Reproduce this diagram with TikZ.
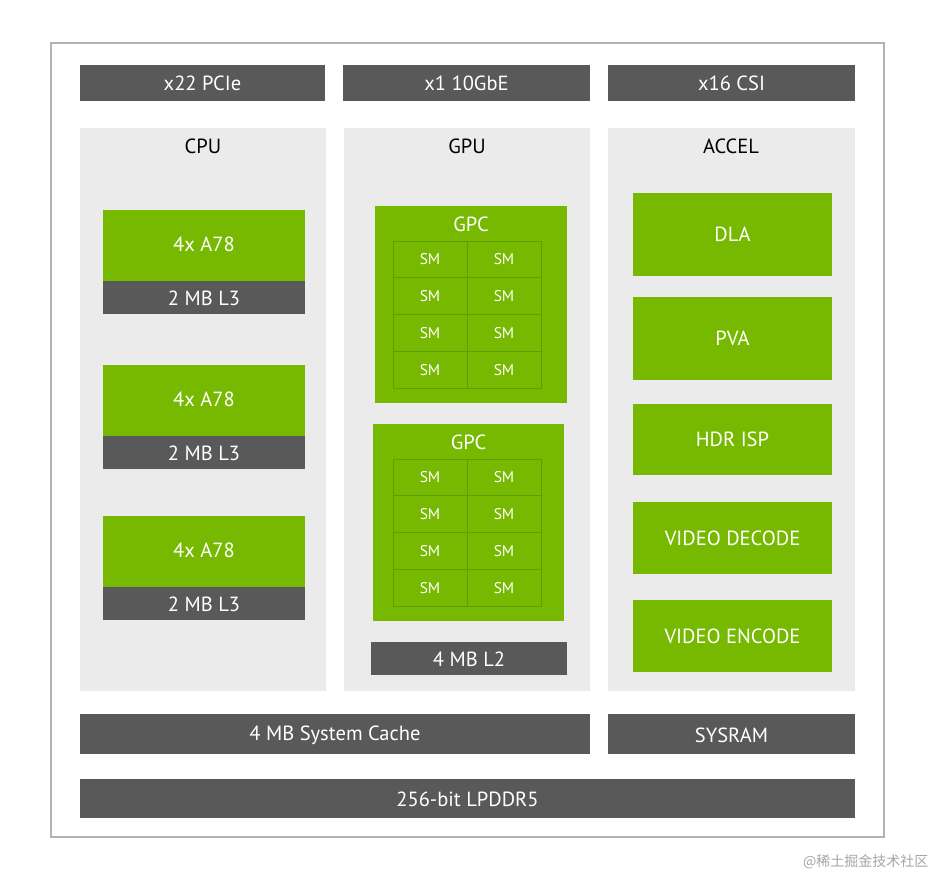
\documentclass[tikz,border=0pt]{standalone}
\usepackage{fontspec}
\setmainfont{PT Sans}
\newfontfamily\cjk{Noto Sans CJK SC}
\definecolor{nvg}{HTML}{76B900}
\definecolor{nvgd}{HTML}{5F9E00}
\definecolor{dk}{HTML}{595959}
\definecolor{lt}{HTML}{EBEBEB}
\begin{document}
\begin{tikzpicture}[x=1pt,y=-1pt,
  lbl/.style={text=white,font=\fontsize{20.5}{24}\selectfont},
  ttl/.style={font=\fontsize{20.5}{24}\selectfont,text=black},
  smt/.style={text=white,font=\fontsize{15.5}{18}\selectfont}]
\useasboundingbox (0,0) rectangle (937,879);
\fill[white] (0,0) rectangle (937,879);
\draw[gray!60,line width=1.2pt,fill=white] (51,43) rectangle (884,837);
% top bars
\fill[dk] (80,65) rectangle (325,101); \node[lbl] (pcie) at (202.5,83) {x22 PCIe};
\fill[dk] (343,65) rectangle (590,101); \node[lbl] (gbe) at (466.5,83) {x1 10GbE};
\fill[dk] (608,65) rectangle (855,101); \node[lbl] (csi) at (731.5,83) {x16 CSI};
% panels
\fill[lt] (80,128) rectangle (326,691);
\fill[lt] (344,128) rectangle (590,691);
\fill[lt] (608,128) rectangle (855,691);
\node[ttl] (cpu) at (203,146) {CPU};
\node[ttl] (gpu) at (467,146) {GPU};
\node[ttl] (accel) at (731,146) {ACCEL};
% CPU clusters
\foreach \t/\n in {210/a,365/b,516/c}{
  \fill[nvg] (103,\t) rectangle (305,\t+71);
  \fill[dk] (103,\t+71) rectangle (305,\t+104);
  \node[lbl] (core\n) at (204,\t+34) {4x A78};
  \node[lbl] (l3\n) at (204,\t+88) {2 MB L3};
}
% GPCs
\foreach \x/\y/\w/\n in {375/206/192/a,373/424/191/b}{
  \fill[nvg] (\x,\y) rectangle (\x+\w,\y+197);
  \node[lbl] (gpc\n) at (\x+\w/2,\y+18) {GPC};
  \draw[nvgd,line width=0.8pt] (393,\y+35) rectangle (541,\y+182);
  \draw[nvgd,line width=0.8pt] (467,\y+35) -- (467,\y+182);
  \foreach \r in {1,2,3}{\draw[nvgd,line width=0.8pt] (393,\y+35+\r*36.75) -- (541,\y+35+\r*36.75);}
  \foreach \r in {0,1,2,3}{
    \node[smt] (sml\n\r) at (430,\y+35+\r*36.75+18.4) {SM};
    \node[smt] (smr\n\r) at (504,\y+35+\r*36.75+18.4) {SM};
  }
}
\fill[dk] (371,642) rectangle (567,675); \node[lbl] (l2) at (469,659) {4 MB L2};
% ACCEL
\foreach \t/\b/\s/\n in {193/276/DLA/a,297/380/PVA/b,404/475/HDR ISP/c,502/574/VIDEO DECODE/d,600/672/VIDEO ENCODE/e}{
  \fill[nvg] (633,\t) rectangle (832,\b);
  \node[lbl] (acc\n) at (732.5,{(\t+\b)/2}) {\s};
}
% bottom
\fill[dk] (80,714) rectangle (590,754); \node[lbl] (sc) at (335,735) {4 MB System Cache};
\fill[dk] (608,714) rectangle (855,754); \node[lbl] (sr) at (731.5,735) {SYSRAM};
\fill[dk] (80,779) rectangle (855,818); \node[lbl] (ddr) at (467.5,799) {256-bit LPDDR5};
\node[text=gray!70,font=\cjk\fontsize{14}{16}\selectfont,anchor=east] (wm) at (932,862) {@稀土掘金技术社区};
\end{tikzpicture}
\end{document}
